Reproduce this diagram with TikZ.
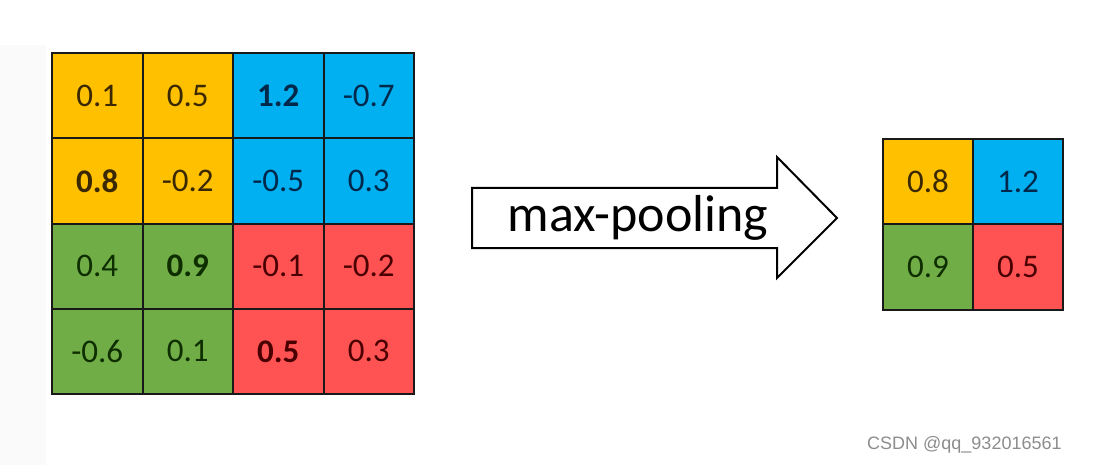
\documentclass[tikz,border=0pt]{standalone}
\usepackage{fontspec}
\setmainfont{Carlito}
\newfontfamily\wmfont{Liberation Sans}
\definecolor{cy}{HTML}{FFC000}
\definecolor{cb}{HTML}{00B0F0}
\definecolor{cg}{HTML}{70AD47}
\definecolor{cr}{HTML}{FF5353}
\definecolor{ty}{HTML}{3A2800}
\definecolor{tb}{HTML}{00284A}
\definecolor{tg}{HTML}{0E2E00}
\definecolor{tr}{HTML}{4A0000}
\begin{document}
\begin{tikzpicture}[x=1pt,y=-1pt,
  cell/.style={draw=black!90,line width=2pt,minimum width=90.5pt,minimum height=85.25pt,inner sep=0pt,font=\fontsize{33}{33}\selectfont,anchor=center},
  scell/.style={draw=black!90,line width=2pt,minimum width=90pt,minimum height=85.5pt,inner sep=0pt,font=\fontsize{33}{33}\selectfont,anchor=center},
  Y/.style={fill=cy,text=ty},B/.style={fill=cb,text=tb},G/.style={fill=cg,text=tg},R/.style={fill=cr,text=tr}]
\useasboundingbox (0,0) rectangle (1094,465);
\fill[black!2] (0,45) rectangle (46,465);
% left grid
\def\cx#1{52+90.5*(#1+0.5)}
\def\cy#1{53+85.25*(#1+0.5)}
\node[cell,Y] (a11) at ({\cx{0}},{\cy{0}}) {0.1};
\node[cell,Y] (a12) at ({\cx{1}},{\cy{0}}) {0.5};
\node[cell,B] (a13) at ({\cx{2}},{\cy{0}}) {\textbf{1.2}};
\node[cell,B] (a14) at ({\cx{3}},{\cy{0}}) {-0.7};
\node[cell,Y] (a21) at ({\cx{0}},{\cy{1}}) {\textbf{0.8}};
\node[cell,Y] (a22) at ({\cx{1}},{\cy{1}}) {-0.2};
\node[cell,B] (a23) at ({\cx{2}},{\cy{1}}) {-0.5};
\node[cell,B] (a24) at ({\cx{3}},{\cy{1}}) {0.3};
\node[cell,G] (a31) at ({\cx{0}},{\cy{2}}) {0.4};
\node[cell,G] (a32) at ({\cx{1}},{\cy{2}}) {\textbf{0.9}};
\node[cell,R] (a33) at ({\cx{2}},{\cy{2}}) {-0.1};
\node[cell,R] (a34) at ({\cx{3}},{\cy{2}}) {-0.2};
\node[cell,G] (a41) at ({\cx{0}},{\cy{3}}) {-0.6};
\node[cell,G] (a42) at ({\cx{1}},{\cy{3}}) {0.1};
\node[cell,R] (a43) at ({\cx{2}},{\cy{3}}) {\textbf{0.5}};
\node[cell,R] (a44) at ({\cx{3}},{\cy{3}}) {0.3};
% arrow
\draw[line width=2pt,fill=white,line join=miter] (472,188) -- (777,188) -- (777,157) -- (837,218) -- (777,278) -- (777,248) -- (472,248) -- cycle;
\node[font=\fontsize{52}{52}\selectfont,anchor=center,inner sep=0pt] (lbl) at (638,218) {max-pooling};
% right grid
\node[scell,Y] (b11) at (928,181.5) {0.8};
\node[scell,B] (b12) at (1018,181.5) {1.2};
\node[scell,G] (b21) at (928,267) {0.9};
\node[scell,R] (b22) at (1018,267) {0.5};
% watermark
\node[font=\wmfont\fontsize{18}{18}\selectfont,text=black!45,anchor=west,inner sep=0pt] (wm) at (867,445) {CSDN @qq\_932016561};
\end{tikzpicture}
\end{document}
